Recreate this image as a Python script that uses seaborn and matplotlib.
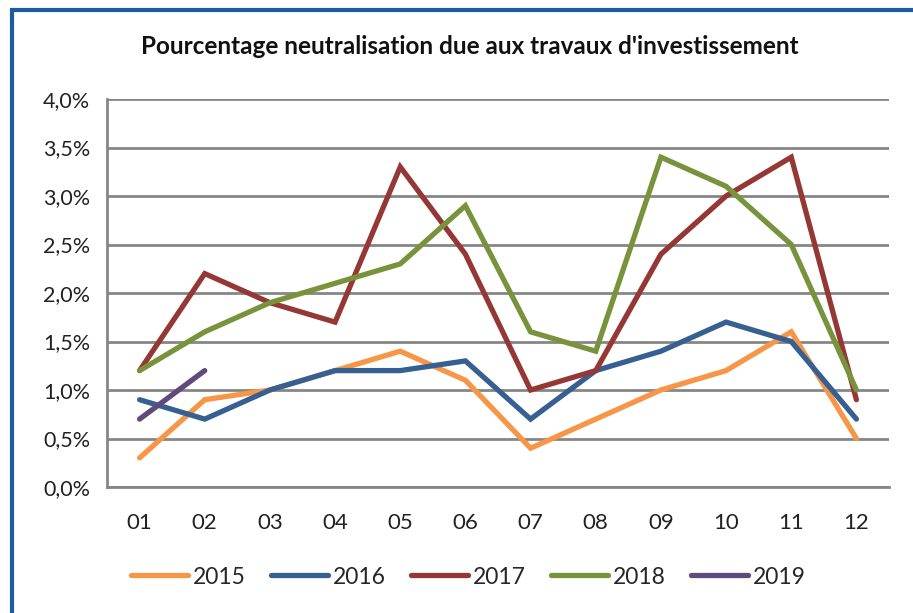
import matplotlib
matplotlib.use("Agg")
import matplotlib.pyplot as plt
import seaborn as sns
import pandas as pd
import numpy as np
from matplotlib.patches import Rectangle
from matplotlib.lines import Line2D
from matplotlib.ticker import FuncFormatter, FixedLocator

months = ["01", "02", "03", "04", "05", "06", "07", "08", "09", "10", "11", "12"]
s2015 = [0.3, 0.9, 1.0, 1.2, 1.4, 1.1, 0.4, 0.7, 1.0, 1.2, 1.6, 0.5]
s2016 = [0.9, 0.7, 1.0, 1.2, 1.2, 1.3, 0.7, 1.2, 1.4, 1.7, 1.5, 0.7]
s2017 = [1.2, 2.2, 1.9, 1.7, 3.3, 2.4, 1.0, 1.2, 2.4, 3.0, 3.4, 0.9]
s2018 = [1.2, 1.6, 1.9, 2.1, 2.3, 2.9, 1.6, 1.4, 3.4, 3.1, 2.5, 1.0]
s2019 = [0.7, 1.2]
years = ["2015", "2016", "2017", "2018", "2019"]
series = [s2015, s2016, s2017, s2018, s2019]
colors = ["#F79646", "#376092", "#953735", "#77933C", "#604A7B"]
title = "Pourcentage neutralisation due aux travaux d'investissement"

rows = []
for y, vals in zip(years, series):
    for i, v in enumerate(vals):
        rows.append({"idx": i, "val": v, "year": y})
df = pd.DataFrame(rows)

sns.set_theme(style="white")
plt.rcParams['font.family'] = ['Lato', 'DejaVu Sans']

fig = plt.figure(figsize=(9.13, 6.13), dpi=100)
W, H = 913, 613
ax = fig.add_axes([107 / W, 1 - 487 / H, (889 - 107) / W, (487 - 99) / H])

sns.lineplot(data=df, x="idx", y="val", hue="year", palette=colors,
             linewidth=3.8, ax=ax, legend=False, sort=False)
for line in ax.lines:
    line.set_solid_capstyle("round")
    line.set_solid_joinstyle("miter")

ax.set_xlim(-0.5, 11.5)
ax.set_ylim(0, 4.0)
ax.set_xlabel("")
ax.set_ylabel("")

grid_c = "#868686"
ax.set_yticks(np.arange(0, 4.01, 0.5))
ax.yaxis.set_major_formatter(FuncFormatter(lambda v, p: f"{v:.1f}%".replace(".", ",")))
ax.yaxis.grid(True, color=grid_c, linewidth=2)
ax.set_axisbelow(True)
ax.set_xticks(range(12))
ax.set_xticklabels(months)
ax.xaxis.set_minor_locator(FixedLocator(np.arange(-0.5, 12, 1)))
ax.tick_params(axis="x", which="major", length=0, pad=19, labelsize=16, colors="#222222")
ax.tick_params(axis="x", which="minor", length=7, width=2, color=grid_c, direction="out")
ax.tick_params(axis="y", which="major", length=7, width=2, color=grid_c, direction="out",
               pad=5, labelsize=15.5, labelcolor="#222222")
for s in ["top", "right"]:
    ax.spines[s].set_visible(False)
for s in ["left", "bottom"]:
    ax.spines[s].set_color(grid_c)
    ax.spines[s].set_linewidth(2)

fig.text(470 / W, 1 - 47 / H, title, ha="center", va="center",
         fontsize=17.5, fontweight="bold", color="#111111")

handles = [Line2D([0], [0], color=c, linewidth=3.8, solid_capstyle="round") for c in colors]
fig.legend(handles, years, loc="center", bbox_to_anchor=(468 / W, 1 - 577 / H), ncol=5,
           frameon=False, fontsize=16.5, handlelength=2.5, handletextpad=0.2,
           columnspacing=1.1)

fig.patches.append(Rectangle((12 / W, -0.1), 1.2, 1 - 10 / H + 0.1, transform=fig.transFigure,
                             fill=False, edgecolor="#1F5C9E", linewidth=3, figure=fig))

fig.savefig("out.png", dpi=100)
